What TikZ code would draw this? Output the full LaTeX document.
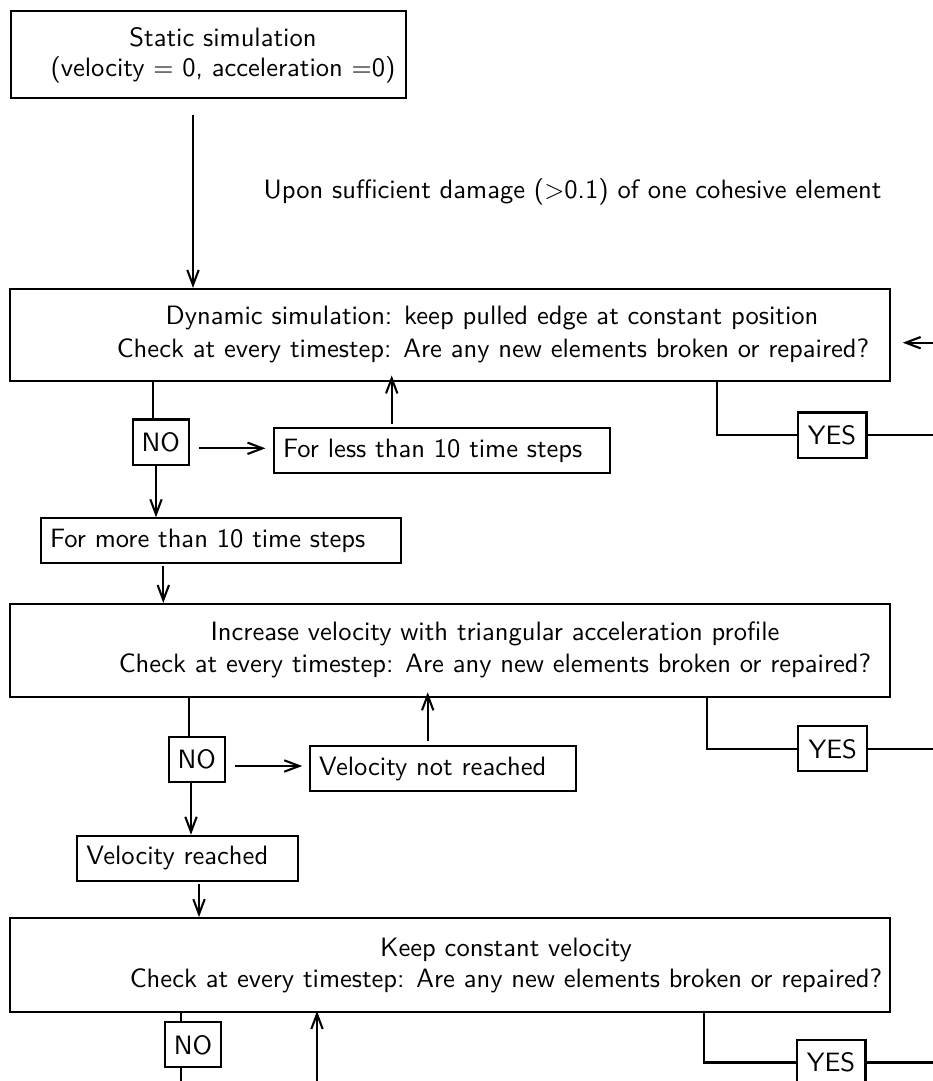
\documentclass[tikz,border=0pt]{standalone}
\usetikzlibrary{arrows.meta}
\begin{document}
\begin{tikzpicture}[x=0.386pt, y=-0.386pt,
  every node/.style={font=\sffamily\fontsize{10.25}{12.3}\selectfont},
  frame/.style={draw, line width=0.8pt, inner sep=0pt},
  tag/.style={frame, minimum width=21.6pt, minimum height=17.4pt},
  yestag/.style={frame, minimum width=26.6pt, minimum height=17.4pt},
  note/.style={frame, inner xsep=3.5pt, inner ysep=0pt, minimum height=17.4pt,
               align=left, text width=#1},
  txt/.style={anchor=base, inner sep=0pt},
  link/.style={line width=0.8pt},
  arr/.style={link, -{Straight Barb[length=5.8pt, width=4.4pt]}}]

\useasboundingbox (0,0) rectangle (933,1081);
\clip (0,0) rectangle (933,1081);

% ---- main stages
\node[frame, minimum width=152.5pt, minimum height=33.6pt] (s1) at (208.5,54.5) {};
\node[txt] (s1a) at (223,46.7) {Static simulation};
\node[txt] (s1b) at (223,76.7) {(velocity $=$ 0, acceleration $=$0)};

\node[frame, minimum width=339.7pt, minimum height=35.7pt] (b2) at (450,335.2) {};
\node[txt] (b2a) at (492,324) {Dynamic simulation: keep pulled edge at constant position};
\node[txt] (b2b) at (493,357) {Check at every timestep: Are any new elements broken or repaired?};

\node[frame, minimum width=339.7pt, minimum height=35.9pt] (b3) at (450,650.5) {};
\node[txt] (b3a) at (495,640) {Increase velocity with triangular acceleration profile};
\node[txt] (b3b) at (495,672) {Check at every timestep: Are any new elements broken or repaired?};

\node[frame, minimum width=339.7pt, minimum height=36.2pt] (b4) at (450,965) {};
\node[txt] (b4a) at (506,956) {Keep constant velocity};
\node[txt] (b4b) at (506,987) {Check at every timestep: Are any new elements broken or repaired?};

% ---- decisions and notes
\node[tag] (no1) at (160.7,442) {NO};
\node[note=122.7pt] (less) at (442,450.8) {For less than 10 time steps};
\node[note=132pt] (more) at (221,540.8) {For more than 10 time steps};
\node[yestag] (yes1) at (832,435) {YES};

\node[tag] (no2) at (196.7,759.7) {NO};
\node[note=95.7pt] (notr) at (443,768.5) {Velocity not reached};
\node[note=78.3pt] (reached) at (187.8,858.3) {Velocity reached};
\node[yestag] (yes2) at (832.8,748.8) {YES};

\node[tag] (no3) at (193,1044.8) {NO};
\node[yestag] (yes3) at (831,1062.5) {YES};

% ---- helper coordinates
\coordinate (start) at (193,115);
\coordinate (e1) at (950,0);
\coordinate (e2) at (950,342.7);
\coordinate (e3) at (181,1095);
\coordinate (e4) at (317,1095);
\coordinate (r1) at (0,448.3);
\coordinate (r2) at (0,766);
\coordinate (k1) at (153,0);
\coordinate (k2) at (156,0);
\coordinate (k3) at (391.7,0);
\coordinate (k4) at (717,0);
\coordinate (k5) at (189.3,0);
\coordinate (k6) at (191,0);
\coordinate (k7) at (427.7,0);
\coordinate (k8) at (707.3,0);
\coordinate (k9) at (199,0);
\coordinate (k10) at (181,0);
\coordinate (k11) at (704.3,0);
\coordinate (k12) at (163.3,0);

% ---- connectors
\draw[arr] (start) -- (start |- b2.north);
\node[txt, anchor=base west] (upon) at (263,198)
  {Upon sufficient damage ($>$0.1) of one cohesive element};

\draw[link] (k1 |- b2.south) -- (k1 |- no1.north);
\draw[arr] (k2 |- no1.south) -- (k2 |- more.north);
\draw[arr, shorten <=3.7pt, shorten >=2.9pt] (no1.east |- r1) -- (less.west |- r1);
\draw[arr, shorten <=1.2pt, shorten >=-2.7pt] (k3 |- less.north) -- (k3 |- b2.south);
\draw[link] (k4 |- b2.south) |- (yes1.west);
\draw[link] (yes1.east) -- (yes1.east -| e1);
\draw[arr, shorten >=4.5pt] (e2) -- (b2.east |- e2);
\draw[arr, shorten <=0.7pt] (k12 |- more.south) -- (k12 |- b3.north);

\draw[link] (k5 |- b3.south) -- (k5 |- no2.north);
\draw[arr] (k6 |- no2.south) -- (k6 |- reached.north);
\draw[arr, shorten <=3.6pt, shorten >=2.6pt] (no2.east |- r2) -- (notr.west |- r2);
\draw[arr, shorten <=1.4pt, shorten >=-2.2pt] (k7 |- notr.north) -- (k7 |- b3.south);
\draw[link] (k8 |- b3.south) |- (yes2.west);
\draw[link] (yes2.east) -- (yes2.east -| e1);

\draw[arr, shorten <=0.9pt] (k9 |- reached.south) -- (k9 |- b4.north);
\draw[link] (k10 |- b4.south) -- (k10 |- no3.north);
\draw[link] (k10 |- no3.south) -- (k10 |- e3);
\draw[arr, shorten >=-0.7pt] (e4) -- (e4 |- b4.south);
\draw[link] (k11 |- b4.south) |- (yes3.west);
\draw[link] (yes3.east) -- (yes3.east -| e1);
\end{tikzpicture}
\end{document}
